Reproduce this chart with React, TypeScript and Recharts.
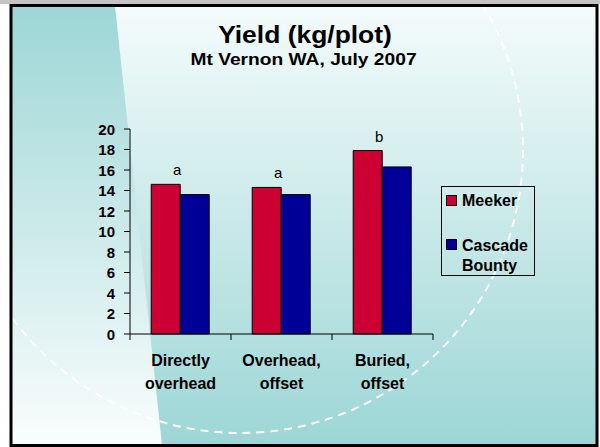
import { BarChart, Bar, XAxis, YAxis, Legend, LabelList } from 'recharts';

const categories = ['Directly overhead', 'Overhead, offset', 'Buried, offset'];
const meeker = [14.6, 14.3, 17.9];
const cascadeBounty = [13.6, 13.6, 16.3];
const letters = ['a', 'a', 'b'];
const yTicks = [0, 2, 4, 6, 8, 10, 12, 14, 16, 18, 20];

const data = categories.map((name, i) => ({
  name,
  meeker: meeker[i],
  cascade: cascadeBounty[i],
  letter: letters[i],
}));

const FONT = '"Liberation Sans", Arial, sans-serif';
const TEAL = '#9dd6d6';
const RED = '#cc0033';
const BLUE = '#000099';

function ValueTick(props: any) {
  const { x, y, payload } = props;
  return (
    <text
      x={x}
      y={y}
      dy={5.5}
      textAnchor="end"
      fontFamily={FONT}
      fontWeight="bold"
      fontSize={15}
      fill="#000"
    >
      {payload.value}
    </text>
  );
}

function CategoryTick(props: any) {
  const { x, y, payload, index, visibleTicksCount } = props;
  const half = payload && payload.offset ? payload.offset : 50;
  const words = String(payload.value).split(' ');
  const last = index === visibleTicksCount - 1;
  return (
    <g>
      <line x1={x - half} x2={x - half} y1={y} y2={y + 6} stroke="#000" />
      {last && <line x1={x + half} x2={x + half} y1={y} y2={y + 6} stroke="#000" />}
      <text
        x={x}
        y={y + 32}
        textAnchor="middle"
        fontFamily={FONT}
        fontWeight="bold"
        fontSize={16}
        fill="#000"
      >
        <tspan x={x}>{words[0]}</tspan>
        <tspan x={x} dy={23}>
          {words.slice(1).join(' ')}
        </tspan>
      </text>
    </g>
  );
}

function LetterLabel(props: any) {
  const { x, y, width, value } = props;
  return (
    <text
      x={Number(x) + Number(width) - 3}
      y={Number(y) - 9}
      textAnchor="middle"
      fontFamily={FONT}
      fontSize={15}
      fill="#000"
    >
      {value}
    </text>
  );
}

function SlideLegend() {
  return (
    <svg width={94} height={90} style={{ display: 'block' }}>
      <rect x={0.5} y={0.5} width={93} height={89} fill="none" stroke="#000" />
      <rect x={5.5} y={9.5} width={10} height={10} fill={RED} stroke="#000" />
      <rect x={5.5} y={53.5} width={10} height={10} fill={BLUE} stroke="#000" />
      <g fontFamily={FONT} fontWeight="bold" fontSize={16} fill="#000">
        <text x={21} y={20}>Meeker</text>
        <text x={21} y={65}>Cascade</text>
        <text x={21} y={85}>Bounty</text>
      </g>
    </svg>
  );
}

function SlideBackground() {
  return (
    <svg width={600} height={447} style={{ position: 'absolute', left: 0, top: 0 }}>
      <defs>
        <linearGradient id="rightFill" x1="0" y1="0" x2="0" y2="1">
          <stop offset="0%" stopColor="#f4fbfb" />
          <stop offset="100%" stopColor={TEAL} />
        </linearGradient>
        <linearGradient id="leftFill" x1="0" y1="0" x2="0" y2="1">
          <stop offset="0%" stopColor={TEAL} />
          <stop offset="100%" stopColor="#fafdfd" />
        </linearGradient>
        <clipPath id="slideClip">
          <rect x={11} y={6} width={586} height={439} />
        </clipPath>
      </defs>
      <rect x={0} y={0} width={600} height={447} fill="#fff" />
      <rect x={0} y={0} width={600} height={4} fill="#c4c4c4" />
      <g clipPath="url(#slideClip)">
        <rect x={11} y={6} width={586} height={439} fill="url(#rightFill)" />
        <polygon points="11,6 115,6 162,445 11,445" fill="url(#leftFill)" />
        <circle
          cx={240}
          cy={150}
          r={283}
          fill="none"
          stroke="#fff"
          strokeWidth={2}
          strokeDasharray="8 6"
        />
      </g>
      <rect x={11} y={5.5} width={586} height={440} fill="none" stroke="#000" strokeWidth={3} />
      <g fontFamily={FONT} fontWeight="bold" fill="#000" textAnchor="middle">
        <text transform="translate(305,42.5) scale(1.15,1)" fontSize={23}>
          Yield (kg/plot)
        </text>
        <text transform="translate(303.5,65) scale(1.13,1)" fontSize={17}>
          Mt Vernon WA, July 2007
        </text>
      </g>
    </svg>
  );
}

export default function App() {
  return (
    <div style={{ position: 'absolute', left: 0, top: 0, width: 600, height: 447 }}>
      <SlideBackground />
      <div style={{ position: 'absolute', left: 0, top: 0 }}>
        <BarChart
          width={600}
          height={447}
          data={data}
          margin={{ top: 129, right: 167, bottom: 53, left: 70 }}
          barCategoryGap="21%"
          barGap={0}
        >
          <XAxis
            dataKey="name"
            height={60}
            axisLine={{ stroke: '#000' }}
            tickLine={false}
            tickSize={0}
            tickMargin={0}
            interval={0}
            tick={<CategoryTick />}
          />
          <XAxis
            xAxisId="top"
            dataKey="name"
            orientation="top"
            height={0}
            tick={false}
            tickLine={false}
            axisLine={{ stroke: '#808080' }}
          />
          <YAxis
            domain={[0, 20]}
            ticks={yTicks}
            width={60}
            interval={0}
            axisLine={{ stroke: '#000' }}
            tickLine={{ stroke: '#000' }}
            tickSize={6}
            tickMargin={9}
            tick={<ValueTick />}
          />
          <YAxis
            yAxisId="right"
            orientation="right"
            domain={[0, 20]}
            width={0}
            tick={false}
            tickLine={false}
            axisLine={{ stroke: '#808080' }}
          />
          <Legend
            layout="horizontal"
            align="center"
            verticalAlign="middle"
            wrapperStyle={{ left: 441, top: 186, width: 94, height: 90 }}
            content={() => <SlideLegend />}
          />
          <Bar
            dataKey="meeker"
            name="Meeker"
            fill={RED}
            stroke="#000"
            strokeWidth={1}
            isAnimationActive={false}
          >
            <LabelList dataKey="letter" content={<LetterLabel />} />
          </Bar>
          <Bar
            dataKey="cascade"
            name="Cascade Bounty"
            fill={BLUE}
            stroke="#000"
            strokeWidth={1}
            isAnimationActive={false}
          />
        </BarChart>
      </div>
    </div>
  );
}
